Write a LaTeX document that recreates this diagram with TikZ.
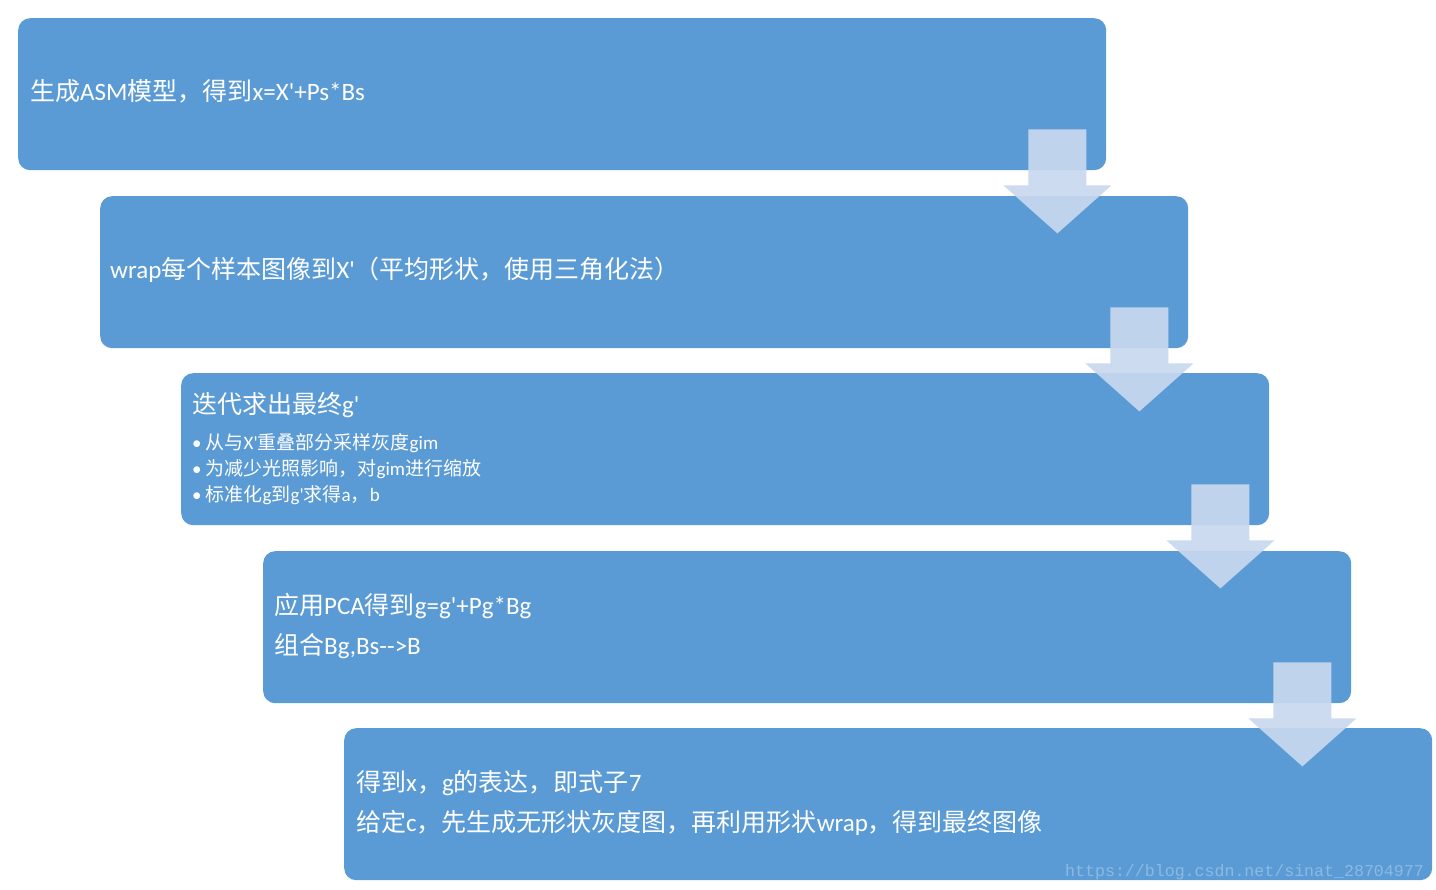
\documentclass[tikz,border=0pt]{standalone}
\usepackage{fontspec}
\setmainfont{Carlito}[Ligatures=TeXOff]
\newfontfamily\cjk{Noto Sans CJK SC}
\newfontfamily\wmfont{Liberation Mono}
\newcommand{\zh}[1]{{\cjk #1}}
\definecolor{boxblue}{RGB}{91,155,213}
\definecolor{arrowblue}{RGB}{200,216,238}
\tikzset{
  box/.style={rectangle, rounded corners=12pt, fill=boxblue, draw=none,
    minimum width=1088pt, minimum height=152pt, inner sep=0pt, anchor=north west},
  txt/.style={text=white, inner sep=0pt, anchor=base west, font=\fontsize{25}{30}\selectfont},
  small/.style={text=white, inner sep=0pt, anchor=base west, font=\fontsize{19}{23}\selectfont},
  arrowfill/.style={fill=arrowblue, fill opacity=0.92, draw=none},
  wmark/.style={text=white, text opacity=0.3, inner sep=0pt, anchor=base west, font=\wmfont\fontsize{16.6}{18}\selectfont}
}
\begin{document}
\begin{tikzpicture}[x=1pt,y=-1pt]
\useasboundingbox (0,0) rectangle (1436,890);
% boxes
\node[box] (b1) at (18,18) {};
\node[box] (b2) at (100,196) {};
\node[box] (b3) at (181,373) {};
\node[box] (b4) at (263,551) {};
\node[box] (b5) at (344,728) {};
% arrows
\foreach \i in {1,2,3,4}{
  \path (b\i.south east) ++(-49,-41) coordinate (a\i);
  \fill[arrowfill] (a\i) ++(-29,0) -- ++(58,0) -- ++(0,56) -- ++(25,0) -- ++(-54,48) -- ++(-54,-48) -- ++(25,0) -- cycle;
}
% texts
\node[txt] (t1) at (30,101) {\zh{生成}ASM\zh{模型，得到}x=X'+Ps*Bs};
\node[txt] (t2) at (110,279) {wrap\zh{每个样本图像到}X'\zh{（平均形状，使用三角化法）}};
\node[txt] (t3) at (192,414) {\zh{迭代求出最终}g'};
\node[small] (t3a) at (192,450) {•\hspace{4pt}\zh{从与}X'\zh{重叠部分采样灰度}gim};
\node[small] (t3b) at (192,476) {•\hspace{4pt}\zh{为减少光照影响，对}gim\zh{进行缩放}};
\node[small] (t3c) at (192,502) {•\hspace{4pt}\zh{标准化}g\zh{到}g'\zh{求得}a\zh{，}b};
\node[txt] (t4a) at (274,614) {\zh{应用}PCA\zh{得到}g=g'+Pg*Bg};
\node[txt] (t4b) at (274,654) {\zh{组合}Bg,Bs-->B};
\node[txt] (t5a) at (356,791) {\zh{得到}x\zh{，}g\zh{的表达，即式子}7};
\node[txt] (t5b) at (356,831) {\zh{给定}c\zh{，先生成无形状灰度图，再利用形状}wrap\zh{，得到最终图像}};
\node[wmark] (wm) at (1065,876) {https://blog.csdn.net/sinat\_28704977};
\end{tikzpicture}
\end{document}
